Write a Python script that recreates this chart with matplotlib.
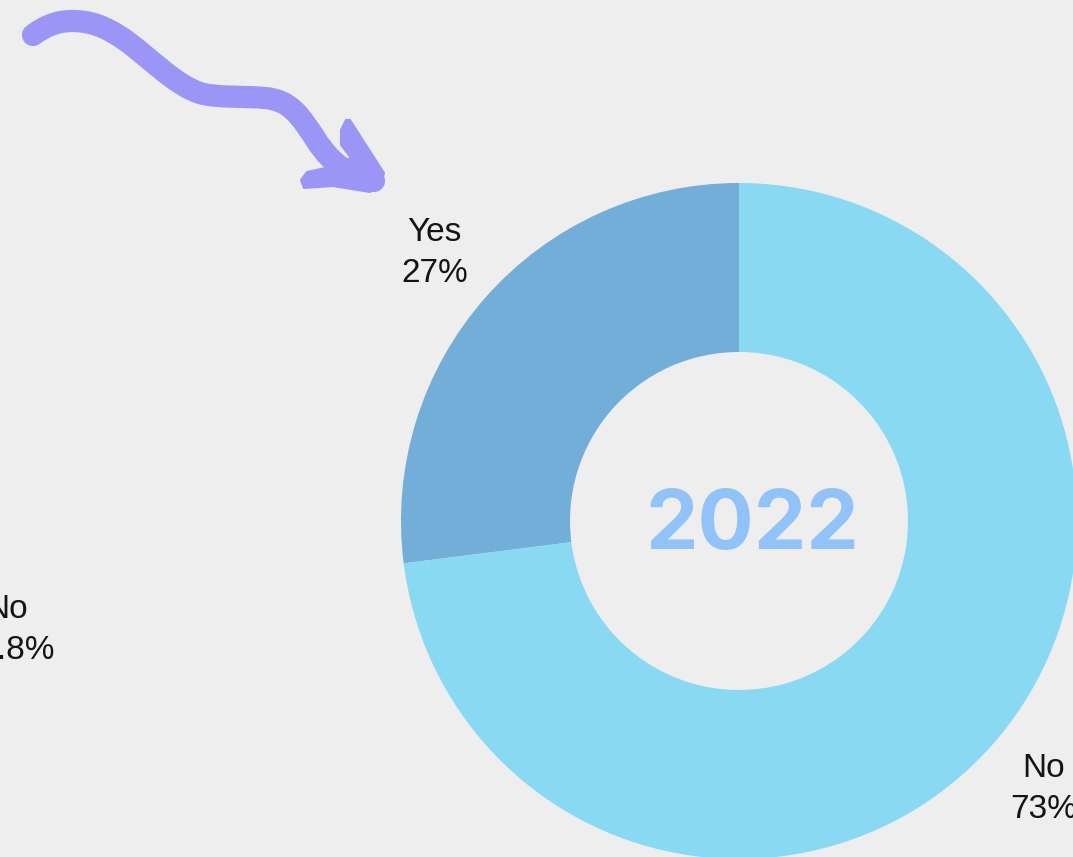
import matplotlib
matplotlib.use("Agg")
import matplotlib.pyplot as plt
from matplotlib.path import Path
from matplotlib.patches import PathPatch, Polygon

# Survey answers for 2022
categories = ["Yes", "No"]
shares = [27, 73]
year_label = "2022"

# Label of the neighbouring (previous-year) chart that runs off the left edge
prev_category = "No"
prev_share = 72.8

BG = "#EEEEEE"
SLICE_COLORS = ["#72AED8", "#89D9F3"]
YEAR_COLOR = "#92C3F8"
ARROW_COLOR = "#9B95F5"
TEXT_COLOR = "#141414"

W, H = 1073, 857
fig = plt.figure(figsize=(W / 100, H / 100), dpi=100, facecolor=BG)
ax = fig.add_axes([0, 0, 1, 1])
ax.set_facecolor(BG)

cx, cy, radius = 739, H - 521, 338

labels = [f"{c}\n{v}%" for c, v in zip(categories, shares)]
wedges, texts = ax.pie(
    shares,
    labels=labels,
    colors=SLICE_COLORS,
    startangle=90,
    counterclock=True,
    center=(cx, cy),
    radius=radius,
    labeldistance=1.2,
    wedgeprops=dict(width=169, linewidth=0),
    textprops=dict(fontsize=24, color=TEXT_COLOR, family="Liberation Sans",
                   linespacing=1.4),
)
for t in texts:
    t.set_ha("center")
    t.set_va("center")

ax.text(752, H - 527, year_label, ha="center", va="center", fontsize=60,
        fontweight="bold", color=YEAR_COLOR, family="Inter")

ax.text(7, H - 630, f"{prev_category}\n{prev_share}%", ha="center", va="center",
        fontsize=24, color=TEXT_COLOR, family="Liberation Sans", linespacing=1.4)

# Hand-drawn style pointer arrow
def p(x, y):
    return (x, H - y)

verts = [p(33, 35),
         p(44, 27), p(56, 21), p(72, 21),
         p(90, 21), p(105, 26), p(125, 40),
         p(150, 58), p(175, 85), p(200, 93),
         p(215, 98), p(245, 96), p(265, 98),
         p(290, 100), p(300, 115), p(318, 143),
         p(332, 163), p(348, 176), p(374, 181)]
codes = [Path.MOVETO] + [Path.CURVE4] * 18
ax.add_patch(PathPatch(Path(verts, codes), facecolor="none",
                       edgecolor=ARROW_COLOR, linewidth=16,
                       capstyle="round", joinstyle="round"))
head = [p(346, 120), p(341, 130), p(341, 145), p(351, 158), p(330, 167),
        p(307, 172), p(301, 180), p(304, 188), p(333, 186), p(370, 192),
        p(381, 185), p(384, 173), p(350, 120)]
ax.add_patch(Polygon(head, closed=True, facecolor=ARROW_COLOR,
                     edgecolor=ARROW_COLOR, linewidth=1.5, joinstyle="round"))

ax.set_xlim(0, W)
ax.set_ylim(0, H)
ax.set_aspect("auto")
ax.axis("off")

fig.savefig("out.png", dpi=100, facecolor=BG)
